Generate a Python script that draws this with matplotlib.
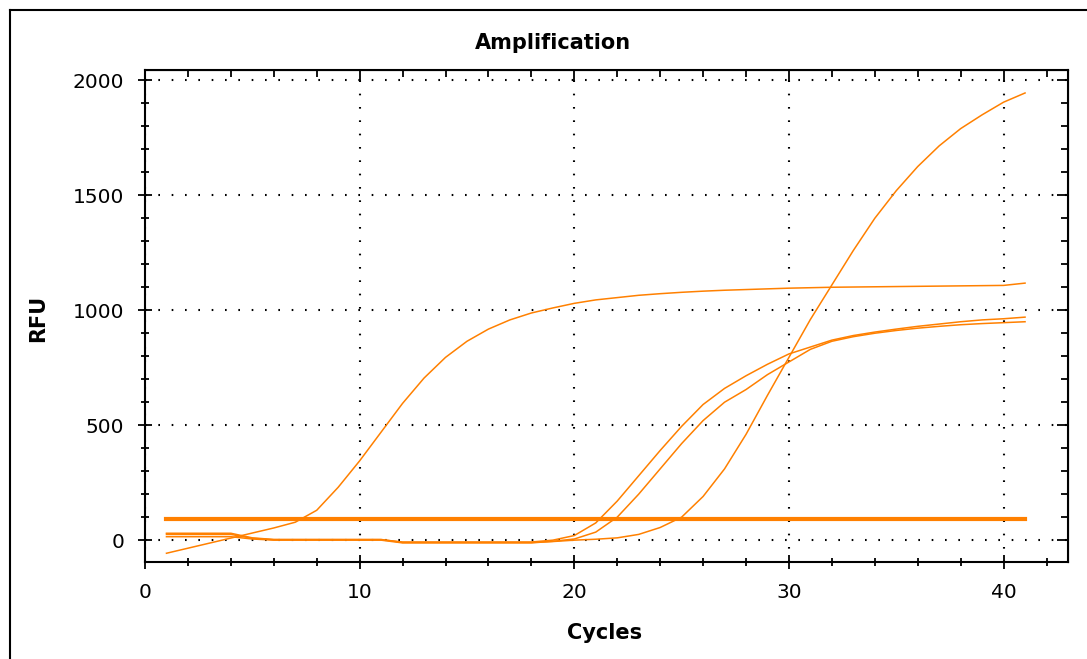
import matplotlib
matplotlib.use("Agg")
import matplotlib.pyplot as plt
from matplotlib.lines import Line2D
from matplotlib.ticker import MultipleLocator

cycles = list(range(1, 42))

# early sample (Ct ~ 8)
rfu_a = [-57, -35, -13, 9, 31, 53, 78, 130, 230, 345, 470, 595, 705, 795, 865,
         918, 958, 988, 1010, 1030, 1045, 1055, 1065, 1072, 1078, 1083, 1087,
         1090, 1093, 1096, 1098, 1100, 1101, 1102, 1103, 1104, 1105, 1106, 1107,
         1108, 1118]
# late steep sample (Ct ~ 25)
rfu_b = [30, 30, 30, 30, 10, 3, 3, 3, 3, 3, 3, -10, -10, -10, -10, -10, -10,
         -10, -6, 0, 4, 10, 25, 55, 100, 190, 310, 460, 630, 795, 960, 1110,
         1260, 1400, 1520, 1625, 1715, 1790, 1850, 1905, 1945]
# two mid samples (Ct ~ 21)
rfu_c = [25, 25, 25, 25, 8, 2, 2, 2, 2, 2, 2, -8, -8, -8, -8, -8, -8, -8, 0,
         20, 75, 170, 280, 390, 495, 590, 660, 715, 765, 810, 840, 870, 890,
         905, 918, 930, 940, 950, 958, 963, 970]
rfu_d = [15, 15, 15, 15, 5, 0, 0, 0, 0, 0, 0, -12, -12, -12, -12, -12, -12,
         -12, -5, 5, 35, 100, 200, 310, 420, 520, 600, 655, 720, 775, 830, 865,
         885, 900, 912, 922, 930, 937, 942, 946, 950]
threshold = 92

orange = "#ff8000"

fig = plt.figure(figsize=(10.87, 6.59), dpi=100)
ax = fig.add_axes([0.1334, 0.1472, 0.8491, 0.7466])

for series in [rfu_a, rfu_b, rfu_c, rfu_d]:
    ax.plot(cycles, series, color=orange, lw=1.1)
ax.plot([cycles[0], cycles[-1]], [threshold, threshold], color=orange, lw=3)

ax.set_xlim(0, 43)
ax.set_ylim(-95, 2045)
ax.xaxis.set_major_locator(MultipleLocator(10))
ax.xaxis.set_minor_locator(MultipleLocator(2))
ax.yaxis.set_major_locator(MultipleLocator(500))
ax.yaxis.set_minor_locator(MultipleLocator(100))

ax.grid(True, which="major", color="black", lw=1.5, linestyle=(0, (0.8, 5.6)))
ax.tick_params(which="major", direction="inout", length=10, width=1.3,
               labelsize=14.5, pad=10)
ax.tick_params(which="minor", direction="inout", length=6, width=1.3)
for s in ax.spines.values():
    s.set_linewidth(1.5)

top = ax.secondary_xaxis("top")
top.xaxis.set_major_locator(MultipleLocator(10))
top.xaxis.set_minor_locator(MultipleLocator(2))
top.tick_params(which="major", direction="in", length=8, width=1.3, labeltop=False)
top.tick_params(which="minor", direction="in", length=5, width=1.3)
right = ax.secondary_yaxis("right")
right.yaxis.set_major_locator(MultipleLocator(500))
right.yaxis.set_minor_locator(MultipleLocator(100))
right.tick_params(which="major", direction="in", length=8, width=1.3, labelright=False)
right.tick_params(which="minor", direction="in", length=5, width=1.3)

fig.text(553 / 1087, 1 - 43 / 659, "Amplification", ha="center", va="center",
         fontsize=15, fontweight="bold")
fig.text(605 / 1087, 1 - 633 / 659, "Cycles", ha="center", va="center",
         fontsize=15, fontweight="bold")
fig.text(38 / 1087, 1 - 318 / 659, "RFU", ha="center", va="center",
         fontsize=15, fontweight="bold", rotation=90)

# window border
fig.add_artist(Line2D([10 / 1087, 10 / 1087], [0, 1 - 10 / 659], color="black", lw=1.5))
fig.add_artist(Line2D([10 / 1087, 1], [1 - 10 / 659, 1 - 10 / 659], color="black", lw=1.5))

fig.savefig("out.png", dpi=100)
